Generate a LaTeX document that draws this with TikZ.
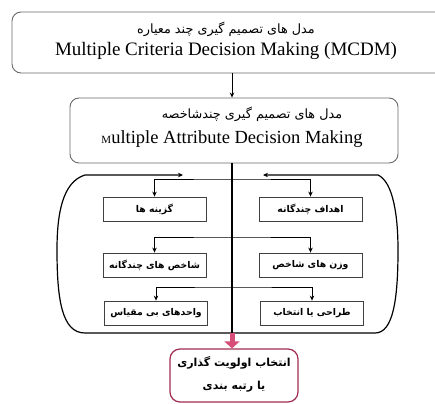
\documentclass[tikz,border=0pt]{standalone}
\usepackage{fontspec}
\setmainfont{Liberation Serif}
\newfontfamily\fa[Script=Arabic]{DejaVu Sans}
\TeXXeTstate=1
\usetikzlibrary{arrows.meta}
\definecolor{boxgray}{RGB}{105,105,105}
\definecolor{redfill}{RGB}{214,78,120}
\definecolor{redline}{RGB}{160,45,80}
\tikzset{
  bigbox/.style={draw=boxgray, line width=0.9pt, rounded corners=9pt, inner sep=0pt},
  smallbox/.style={draw=black!75, line width=0.8pt, inner sep=0pt, minimum width=103pt, minimum height=24pt,
    font=\fa\bfseries\fontsize{9.3}{11}\selectfont},
  fatext/.style={inner sep=0pt, font=\fa\fontsize{12.8}{15}\selectfont},
  entext/.style={inner sep=0pt, font=\fontsize{19}{22}\selectfont},
  tip/.style={line width=1pt, {Stealth[length=5pt,width=4.5pt]}-{Stealth[length=5pt,width=4.5pt]}},
  arr/.style={line width=1pt, -{Stealth[length=5pt,width=4.5pt]}},
  redbox/.style={draw=redline, line width=1.2pt, rounded corners=10pt, fill=white, inner sep=0pt,
    minimum width=128pt, minimum height=53pt},
  redtext/.style={inner sep=0pt, font=\fa\bfseries\fontsize{11}{13}\selectfont}
}
\begin{document}
\begin{tikzpicture}[x=1pt,y=-1pt]
\useasboundingbox (0,0) rectangle (435,403);
\clip (0,0) rectangle (435,403);
% spine x position
\coordinate (sp) at (232,0);
% top box
\node[bigbox, minimum width=433pt, minimum height=61pt] (b1) at (228.5,42.5) {};
\node[fatext] (t1fa) at (226,29) {\beginR مدل های تصمیم گیری چند معیاره\endR};
\node[entext] (t1en) at (226,51) {Multiple Criteria Decision Making (MCDM)};
% second box
\node[bigbox, minimum width=328pt, minimum height=65pt] (b2) at (234,130.5) {};
\node[fatext] (t2fa) at (252,114) {\beginR مدل های تصمیم گیری چندشاخصه\endR};
\node[entext, font=\fontsize{18.5}{22}\selectfont] (t2en) at (232,139) {{\fontsize{11}{13}\selectfont M}ultiple Attribute Decision Making};
\draw[arr] (b1.south -| sp) -- (b2.north -| sp);
% oval
\coordinate (ovb) at (232,333);
\draw[tip, line width=1.2pt] (183,175) -- (85,175) .. controls (62,182) and (57,215) .. (57,250)
  .. controls (57,300) and (62,333) .. (85,333) -- (375,333)
  .. controls (393,333) and (398,300) .. (398,250) .. controls (398,215) and (393,182) .. (378,175) -- (263,175);
% spine
\draw[line width=1.1pt] (b2.south -| sp) -- (ovb);
% boxes
\node[smallbox] (l1) at (154.5,209) {\beginR گزینه ها\endR};
\node[smallbox] (r1) at (310.5,209) {\beginR اهداف چندگانه\endR};
\node[smallbox] (l2) at (154.5,265) {\beginR شاخص های چندگانه\endR};
\node[smallbox] (r2) at (310.5,265) {\beginR وزن های شاخص\endR};
\node[smallbox] (l3) at (156,313) {\beginR واحدهای بی مقیاس\endR};
\node[smallbox] (r3) at (312,313) {\beginR طراحی یا انتخاب\endR};
\coordinate (s1) at (232,179);
\coordinate (s2) at (232,237);
\coordinate (s3) at (232,287);
\draw[tip] (l1.north) |- (s1) -| (r1.north);
\draw[tip] (l2.north) |- (s2) -| (r2.north);
\draw[tip] (l3.north) |- (s3) -| (r3.north);
% red box
\node[redbox] (rb) at (234,375.5) {};
\node[redtext] (rt1) at (234,363) {\beginR انتخاب اولویت گذاری\endR};
\node[redtext] (rt2) at (234,387) {\beginR یا رتبه بندی\endR};
\draw[redfill, line width=5pt, -{Triangle[length=7pt,width=15pt]}] (ovb) -- (rb.north -| sp);
\end{tikzpicture}
\end{document}
